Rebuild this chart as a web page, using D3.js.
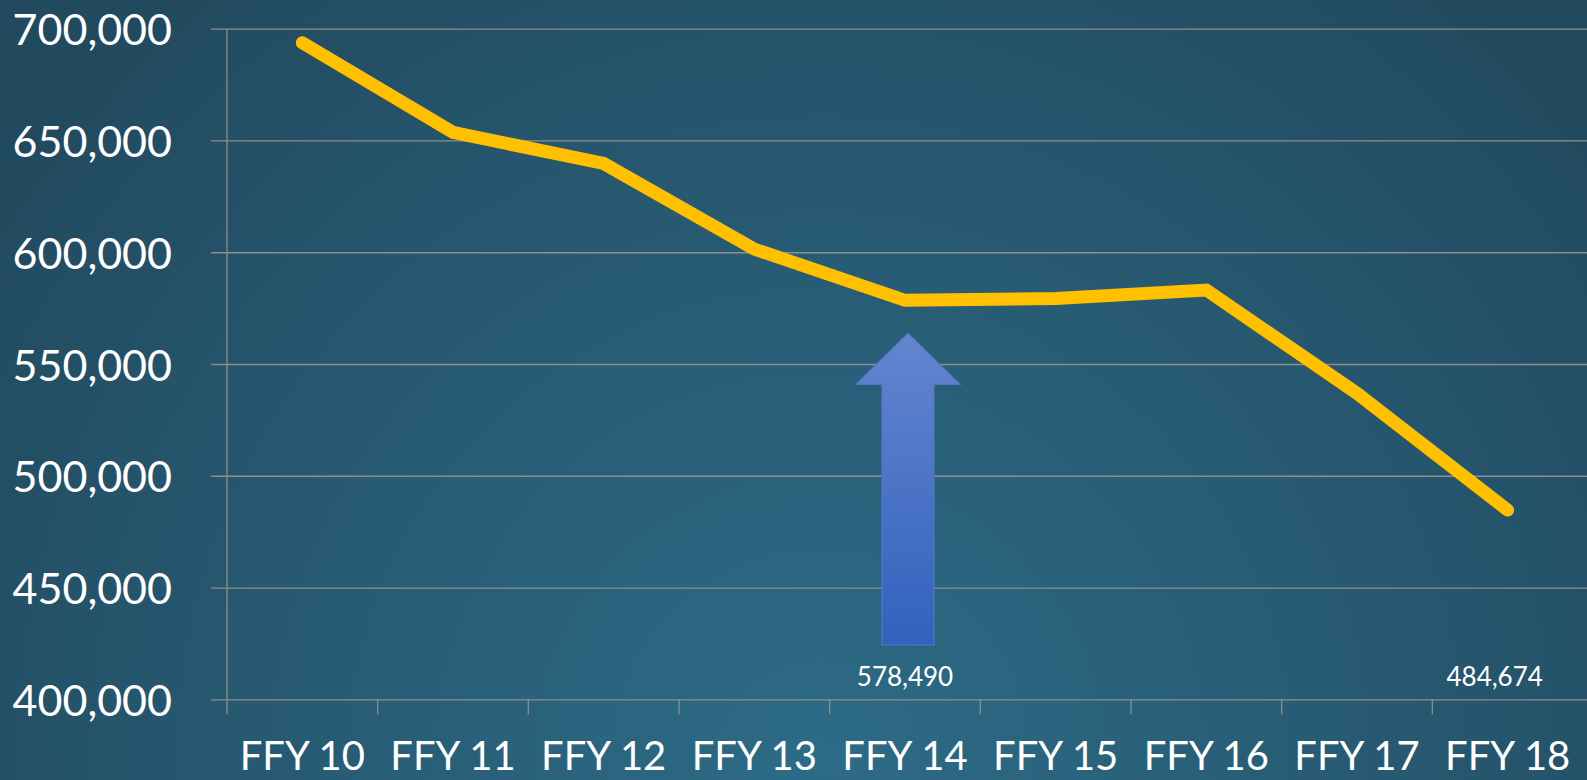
<!DOCTYPE html>
<html>
<head>
<meta charset="utf-8">
<script src="https://cdn.jsdelivr.net/npm/d3@7"></script>
<style>
  html, body { margin: 0; padding: 0; background: #265a72; }
  svg { display: block; }
  text { font-family: Lato, "Open Sans", sans-serif; fill: #ffffff; }
</style>
</head>
<body>
<svg id="chart" width="1587" height="780"></svg>
<script>
// ---- data ----
const categories = ["FFY 10", "FFY 11", "FFY 12", "FFY 13", "FFY 14", "FFY 15", "FFY 16", "FFY 17", "FFY 18"];
const values = [693700, 653600, 639700, 601400, 578490, 579300, 583100, 536900, 484674];
const yTicks = [400000, 450000, 500000, 550000, 600000, 650000, 700000];
const labelledCategories = ["FFY 14", "FFY 18"];
const arrowCategory = "FFY 14";
const arrowBaseValue = 424300;

const W = 1587, H = 780;
const svg = d3.select("#chart");
const defs = svg.append("defs");

// background
const bg = defs.append("radialGradient").attr("id", "bg")
  .attr("gradientUnits", "userSpaceOnUse")
  .attr("cx", 820).attr("cy", 760).attr("r", 1000);
bg.append("stop").attr("offset", "0%").attr("stop-color", "#2d6b86");
bg.append("stop").attr("offset", "55%").attr("stop-color", "#275a72");
bg.append("stop").attr("offset", "100%").attr("stop-color", "#224a5f");
svg.append("rect").attr("width", W).attr("height", H).attr("fill", "url(#bg)");

const arrowGrad = defs.append("linearGradient").attr("id", "arrowGrad")
  .attr("x1", 0).attr("y1", 0).attr("x2", 0).attr("y2", 1);
arrowGrad.append("stop").attr("offset", "0%").attr("stop-color", "#6585d0");
arrowGrad.append("stop").attr("offset", "100%").attr("stop-color", "#3162bd");

// scales
const x = d3.scaleBand().domain(categories).range([227, 1583]).paddingInner(0).paddingOuter(0);
const y = d3.scaleLinear().domain([400000, 700000]).range([699.3, 28.7]);

// gridlines
const grid = svg.append("g")
  .attr("transform", "translate(227,0)")
  .call(d3.axisLeft(y).tickValues(yTicks).tickSize(-(W - 227)).tickFormat(""));
grid.select(".domain").remove();
grid.selectAll(".tick line").attr("stroke", "#8e8e8e").attr("stroke-width", 1.3)
  .attr("x1", -16);

// y labels
svg.append("g").selectAll("text").data(yTicks).join("text")
  .attr("x", 172).attr("y", d => y(d))
  .attr("text-anchor", "end").attr("dominant-baseline", "central")
  .style("font-size", "43px")
  .text(d => d3.format(",")(d));

// vertical axis line
svg.append("line").attr("x1", 227).attr("x2", 227)
  .attr("y1", y(700000)).attr("y2", y(400000) + 15)
  .attr("stroke", "#8e8e8e").attr("stroke-width", 1.3);

// x ticks at band boundaries
const bounds = categories.slice(1).map(c => x(c));
svg.append("g").selectAll("line").data(bounds).join("line")
  .attr("x1", d => d).attr("x2", d => d)
  .attr("y1", y(400000)).attr("y2", y(400000) + 15)
  .attr("stroke", "#8e8e8e").attr("stroke-width", 1.3);

// x labels
svg.append("g").selectAll("text").data(categories).join("text")
  .attr("x", d => x(d) + x.bandwidth() / 2).attr("y", 770)
  .attr("text-anchor", "middle")
  .style("font-size", "40px")
  .text(d => d);

// arrow
const ax = x(arrowCategory) + x.bandwidth() / 2 + 3;
const tipY = y(values[categories.indexOf(arrowCategory)]) + 33;
const headBase = tipY + 51;
const baseY = y(arrowBaseValue);
const arrowPts = [
  [ax, tipY], [ax + 52, headBase], [ax + 26, headBase], [ax + 26, baseY],
  [ax - 26, baseY], [ax - 26, headBase], [ax - 52, headBase]
];
svg.append("path")
  .attr("d", d3.line()(arrowPts) + "Z")
  .attr("fill", "url(#arrowGrad)")
  .attr("stroke", "#4f78c9").attr("stroke-width", 1.2);

// line
const line = d3.line()
  .x((d, i) => x(categories[i]) + x.bandwidth() / 2)
  .y(d => y(d));
svg.append("path").datum(values)
  .attr("d", line)
  .attr("fill", "none")
  .attr("stroke", "#ffc000")
  .attr("stroke-width", 13)
  .attr("stroke-linecap", "round")
  .attr("stroke-linejoin", "miter");

// data labels
const labelShift = { "FFY 14": 0, "FFY 18": -13 };
svg.append("g").selectAll("text").data(labelledCategories).join("text")
  .attr("x", d => x(d) + x.bandwidth() / 2 + labelShift[d])
  .attr("y", 686)
  .attr("text-anchor", "middle")
  .style("font-size", "26px")
  .text(d => d3.format(",")(values[categories.indexOf(d)]));
</script>
</body>
</html>
